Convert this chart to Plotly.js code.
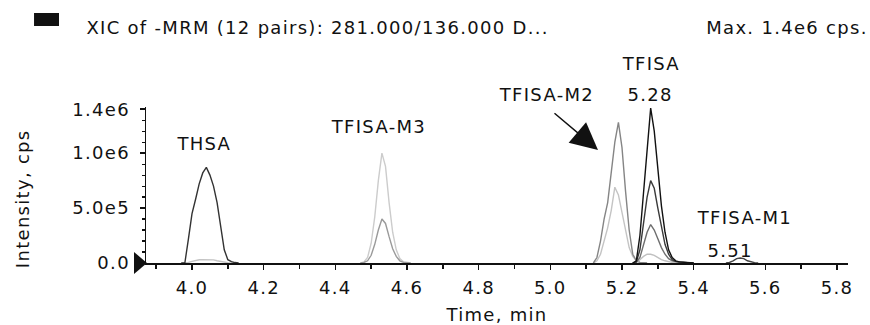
<!DOCTYPE html>
<html>
<head>
<meta charset="utf-8">
<script src="https://cdn.plot.ly/plotly-3.0.1.min.js"></script>
<style>
html,body{margin:0;padding:0;background:#fff;}
#chart{width:870px;height:325px;}
.js-plotly-plot .main-svg text{letter-spacing:1.3px;}
</style>
</head>
<body>
<div id="chart"></div>
<script>
// Retention time (min) and intensity (x 1e6 cps) for each XIC trace
const thsaTime = [3.97,3.98,3.99,4.00,4.01,4.02,4.03,4.04,4.05,4.06,4.07,4.08,4.09,4.10,4.11,4.12,4.13];
const thsaMain = [0,0,0.22,0.45,0.58,0.72,0.82,0.87,0.80,0.70,0.55,0.35,0.12,0.03,0.012,0.004,0];
const thsaLow  = [0,0,0.005,0.015,0.025,0.03,0.03,0.03,0.03,0.028,0.02,0.012,0.006,0.002,0,0,0];

const m3Time = [4.47,4.48,4.49,4.50,4.51,4.52,4.53,4.54,4.55,4.56,4.57,4.58,4.59,4.60,4.61];
const m3High = [0,0.01,0.05,0.18,0.42,0.75,1.0,0.88,0.55,0.28,0.12,0.04,0.012,0.003,0];
const m3Low  = [0,0.005,0.02,0.07,0.17,0.30,0.40,0.36,0.24,0.13,0.06,0.02,0.006,0,0];

const m2Time = [5.12,5.13,5.14,5.15,5.16,5.17,5.18,5.19,5.20,5.21,5.22,5.23,5.24,5.25,5.26,5.27];
const m2High = [0,0.05,0.2,0.40,0.55,0.8,1.1,1.28,1.05,0.65,0.30,0.08,0.02,0.005,0,0];
const m2Low  = [0,0.02,0.08,0.2,0.32,0.48,0.69,0.62,0.45,0.28,0.14,0.06,0.02,0.005,0,0];

const tfTime = [5.23,5.24,5.25,5.26,5.27,5.28,5.29,5.30,5.31,5.32,5.33,5.34,5.35,5.36,5.37,5.38,5.39,5.40];
const tfA = [0,0.02,0.25,0.65,1.05,1.41,1.2,0.85,0.52,0.28,0.12,0.05,0.02,0.01,0.008,0.005,0.002,0];
const tfB = [0,0.01,0.12,0.35,0.6,0.75,0.68,0.5,0.32,0.17,0.08,0.03,0.015,0.01,0.008,0.004,0,0];
const tfC = [0,0.005,0.05,0.16,0.28,0.35,0.3,0.22,0.14,0.08,0.04,0.02,0.01,0.005,0,0,0,0];
const tfD = [0,0.005,0.03,0.06,0.08,0.08,0.07,0.05,0.03,0.02,0.01,0.005,0,0,0,0,0,0];

const m1Time = [5.49,5.50,5.51,5.52,5.53,5.54,5.55,5.56,5.57,5.58];
const m1Val  = [0,0.005,0.02,0.04,0.045,0.04,0.02,0.01,0.003,0];

const yTickVals = [0, 0.5, 1.0, 1.4];
const yTickText = ['0.0', '5.0e5', '1.0e6', '1.4e6'];

const FONT = 'DejaVu Sans, Verdana, sans-serif';
const INK = '#111111';

function tr(x, y, color) {
  return {x: x, y: y, type: 'scatter', mode: 'lines',
          line: {color: color, width: 1.4}, hoverinfo: 'skip', showlegend: false};
}

const data = [
  tr(thsaTime, thsaLow, '#c4c4c4'),
  tr(thsaTime, thsaMain, '#333333'),
  tr(m3Time, m3High, '#cccccc'),
  tr(m3Time, m3Low, '#9a9a9a'),
  tr(m2Time, m2Low, '#c4c4c4'),
  tr(m2Time, m2High, '#858585'),
  tr(tfTime, tfD, '#c0c0c0'),
  tr(tfTime, tfC, '#6e6e6e'),
  tr(tfTime, tfB, '#3a3a3a'),
  tr(tfTime, tfA, '#111111'),
  tr(m1Time, m1Val, '#444444')
];

function lab(text, x, y, yref) {
  return {text: text, x: x, y: y, xref: 'x', yref: yref || 'y', showarrow: false,
          xanchor: 'center', yanchor: 'middle', font: {family: FONT, size: 18, color: INK}};
}

const layout = {
  width: 870, height: 325,
  margin: {l: 146, r: 22, t: 107, b: 62},
  paper_bgcolor: '#ffffff', plot_bgcolor: '#ffffff',
  font: {family: FONT, size: 18, color: INK},
  xaxis: {
    range: [3.8716, 5.8307], tick0: 4.0, dtick: 0.2, tickformat: '.1f',
    showgrid: false, zeroline: false, showline: true, linecolor: INK, linewidth: 1.5,
    ticks: 'outside', ticklen: 5, tickwidth: 1.5, tickcolor: INK,
    minor: {tickmode: 'linear', tick0: 4.0, dtick: 0.1, ticks: 'outside', ticklen: 4, tickwidth: 1.5, tickcolor: INK, showgrid: false},
    tickfont: {family: FONT, size: 18, color: INK},
    ticklabelstandoff: 3,
    title: {text: 'Time, min', font: {family: FONT, size: 18, color: INK}, standoff: 14}
  },
  yaxis: {
    range: [0, 1.42], tickmode: 'array', tickvals: yTickVals, ticktext: yTickText,
    showgrid: false, zeroline: false, showline: true, linecolor: INK, linewidth: 1.5,
    ticks: 'outside', ticklen: 5, tickwidth: 1.5, tickcolor: INK,
    minor: {tickmode: 'linear', tick0: 0, dtick: 0.1, ticks: 'outside', ticklen: 3, tickwidth: 1.2, tickcolor: INK, showgrid: false},
    tickfont: {family: FONT, size: 18, color: INK},
    ticklabelstandoff: 6
  },
  shapes: [
    {type: 'rect', xref: 'paper', yref: 'paper', x0: -0.1595, x1: -0.1239, y0: 1.5192, y1: 1.6026,
     fillcolor: '#111111', line: {width: 0}},
    {type: 'path', xref: 'paper', yref: 'paper', xsizemode: 'pixel', ysizemode: 'pixel',
     xanchor: 0, yanchor: 0, path: 'M-12,-11 L1,0 L-12,11 Z', fillcolor: '#111111', line: {width: 0}}
  ],
  annotations: [
    {text: 'Intensity, cps', xref: 'paper', yref: 'paper', x: -0.1766, y: 0.41,
     xanchor: 'center', yanchor: 'middle', textangle: -90, showarrow: false,
     font: {family: FONT, size: 18, color: INK}},
    {text: 'XIC of -MRM (12 pairs): 281.000/136.000 D...', xref: 'paper', yref: 'paper',
     x: 0.2443, y: 1.5128, xanchor: 'center', yanchor: 'middle', showarrow: false,
     font: {family: FONT, size: 18, color: INK}},
    {text: 'Max. 1.4e6 cps.', xref: 'paper', yref: 'paper',
     x: 0.9124, y: 1.5128, xanchor: 'center', yanchor: 'middle', showarrow: false,
     font: {family: FONT, size: 18, color: INK}},
    lab('THSA', 4.0335, 1.088),
    lab('TFISA-M3', 4.5218, 1.238),
    lab('TFISA-M2', 4.988, 1.0833, 'paper'),
    lab('TFISA', 5.281, 1.282, 'paper'),
    lab('5.28', 5.278, 1.077, 'paper'),
    lab('TFISA-M1', 5.5405, 0.41),
    lab('5.51', 5.5014, 0.118),
    {text: '', x: 5.133, y: 1.029, xref: 'x', yref: 'y', showarrow: true,
     ax: -45, ay: -38, axref: 'pixel', ayref: 'pixel',
     arrowhead: 2, arrowsize: 3.6, arrowwidth: 1.5, arrowcolor: INK, standoff: 0}
  ]
};

Plotly.newPlot('chart', data, layout, {displayModeBar: false, staticPlot: true});
</script>
</body>
</html>
